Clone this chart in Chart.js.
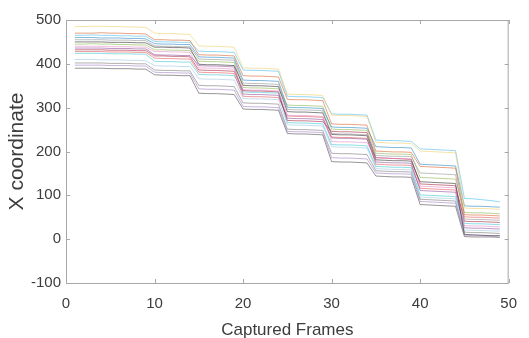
<!DOCTYPE html>
<html>
<head>
<meta charset="utf-8">
<script src="https://cdn.jsdelivr.net/npm/chart.js@4/dist/chart.umd.min.js"></script>
<style>
  html, body { margin: 0; padding: 0; background: #fff; }
  #wrap { width: 529px; height: 338px; position: relative; }
</style>
</head>
<body>
<div id="wrap"><canvas id="trackChart"></canvas></div>
<script>
// frame index on the x axis
const frames = [1,2,3,4,5,6,7,8,9,10,11,12,13,14,15,16,17,18,19,20,21,22,23,24,25,
  26,27,28,29,30,31,32,33,34,35,36,37,38,39,40,41,42,43,44,45,46,47,48,49];

// x coordinate of each tracked point
const trackYellow = [485,485,486,486,485,485,484,484,483, 470,469,469,468,467, 441,440,440,439,438, 391,390,390,389,388, 331,330,330,329,328, 283,282,282,281,280, 221,220,219,219,218, 201,200,199,198,197, 71,70,70,69,68];
const trackOrange = [470,470,470,471,470,470,469,469,468, 455,455,454,454,453, 421,420,420,419,418, 373,372,372,371,370, 319,318,318,317,316, 263,262,262,261,260, 201,200,199,199,198, 166,165,164,163,162, 56,55,55,54,53];
const trackCyan = [465,465,466,465,465,464,464,463,463, 451,450,450,449,449, 429,428,428,427,426, 386,385,385,384,383, 326,325,325,324,323, 286,285,285,284,283, 226,225,225,224,223, 206,205,204,203,202, 93,92,90,88,85];
const trackBlue = [460,460,460,459,459,459,458,458,457, 446,445,445,444,444, 416,415,415,414,413, 363,362,362,361,360, 301,300,300,299,298, 256,255,255,254,253, 211,210,209,209,208, 171,170,169,168,167, 76,75,75,74,73];
const trackGrey = [455,455,455,455,454,454,454,453,453, 441,440,440,439,439, 411,410,410,409,408, 356,355,355,354,353, 296,295,295,294,293, 241,240,240,239,238, 191,190,189,189,188, 151,150,149,148,147, 46,45,45,44,43];
const trackBlack = [450,450,450,450,449,449,449,448,448, 438,438,437,437,436, 399,398,398,397,396, 351,350,350,349,348, 291,290,290,289,288, 239,238,238,237,236, 181,180,179,179,178, 131,130,129,128,127, 11,10,9,8,8];
const trackGreen = [445,445,446,445,445,444,444,443,443, 432,432,431,431,430, 406,405,405,404,403, 346,345,345,344,343, 306,305,305,304,303, 251,250,250,249,248, 196,195,194,194,193, 141,140,139,138,137, 61,60,60,59,58];
const trackPink = [440,440,440,440,439,439,439,438,438, 428,428,427,427,426, 391,390,390,389,388, 341,340,340,339,338, 283,282,282,281,280, 223,222,222,221,220, 186,185,184,184,183, 121,120,119,118,117, 31,30,30,29,28];
const trackPurple = [436,436,436,436,435,435,435,434,434, 421,420,420,419,419, 396,395,395,394,393, 331,330,330,329,328, 276,275,275,274,273, 231,230,230,229,228, 176,175,174,174,173, 111,110,109,108,107, 26,25,25,24,23];
const trackBrown = [432,432,432,432,431,431,431,430,430, 418,418,417,417,416, 386,385,385,384,383, 339,338,338,337,336, 271,270,270,269,268, 246,245,245,244,243, 186,185,184,183,182, 126,125,124,123,122, 41,40,40,39,38];
const trackRed = [428,428,428,428,427,427,427,426,426, 413,412,412,411,411, 381,380,380,379,378, 326,325,325,324,323, 281,280,280,279,278, 233,232,232,231,230, 171,170,169,169,168, 116,115,114,113,112, 51,50,50,49,48];
const trackTeal = [424,424,424,424,423,423,423,422,422, 406,405,405,404,404, 376,375,375,374,373, 336,335,335,334,333, 266,265,265,264,263, 216,215,215,214,213, 166,165,164,164,163, 101,100,99,98,97, 36,35,35,34,33];
const trackSky = [410,410,410,409,409,409,408,408,407, 396,395,395,394,394, 366,365,365,364,363, 321,320,320,319,318, 261,260,260,259,258, 211,210,210,209,208, 161,160,159,159,158, 96,95,94,93,92, 21,20,20,19,18];
const trackSlate = [402,402,402,402,401,401,401,400,400, 386,385,385,384,384, 351,350,350,349,348, 311,310,310,309,308, 251,250,250,249,248, 196,195,195,194,193, 156,155,154,154,153, 91,90,89,88,87, 16,15,15,14,13];
const trackViolet = [397,397,397,397,396,396,396,395,395, 381,380,380,379,379, 343,342,342,341,340, 303,302,302,301,300, 246,245,245,244,243, 186,185,185,184,183, 151,150,149,149,148, 86,85,84,83,82, 9,8,8,7,7];
const trackDark = [390,390,390,390,389,389,389,388,388, 375,374,374,373,373, 333,332,332,331,330, 297,296,296,295,294, 241,240,240,239,238, 177,176,176,175,174, 144,143,142,142,141, 79,78,77,76,75, 6,5,5,5,4];

const xTicks = [0, 10, 20, 30, 40, 50];
const yTicks = [-100, 0, 100, 200, 300, 400, 500];

const tracks = [trackYellow, trackOrange, trackCyan, trackBlue, trackGrey, trackBlack,
  trackGreen, trackPink, trackPurple, trackBrown, trackRed, trackTeal, trackSky,
  trackSlate, trackViolet, trackDark];
const colors = [
  "rgba(237, 200, 80, 0.5)", "rgba(217, 83, 25, 0.55)", "rgba(77, 190, 238, 0.6)",
  "rgba(0, 114, 189, 0.5)", "rgba(140, 140, 140, 0.55)", "rgba(50, 50, 50, 0.6)",
  "rgba(119, 172, 48, 0.5)", "rgba(227, 119, 194, 0.5)", "rgba(126, 47, 142, 0.5)",
  "rgba(162, 20, 47, 0.55)", "rgba(224, 60, 60, 0.5)", "rgba(23, 190, 207, 0.5)",
  "rgba(158, 202, 225, 0.6)", "rgba(100, 100, 100, 0.5)", "rgba(148, 103, 189, 0.5)",
  "rgba(80, 80, 80, 0.6)"];

// box round the plot plus short inward ticks, like the original figure
const boxTicks = {
  id: "boxTicks",
  afterDraw(chart) {
    const { ctx, chartArea: a, scales } = chart;
    ctx.save();
    ctx.strokeStyle = "#a8a8a8";
    ctx.lineWidth = 1;
    ctx.strokeRect(a.left + 0.5, a.top + 0.5, a.right - a.left - 1, a.bottom - a.top);
    ctx.beginPath();
    xTicks.forEach((v) => {
      const px = Math.round(scales.x.getPixelForValue(v)) + 0.5;
      ctx.moveTo(px, a.bottom); ctx.lineTo(px, a.bottom - 4);
      ctx.moveTo(px, a.top); ctx.lineTo(px, a.top + 4);
    });
    yTicks.forEach((v) => {
      const py = Math.round(scales.y.getPixelForValue(v)) + 0.5;
      ctx.moveTo(a.left, py); ctx.lineTo(a.left + 4, py);
      ctx.moveTo(a.right, py); ctx.lineTo(a.right - 4, py);
    });
    ctx.stroke();
    ctx.restore();
  },
};

const textColor = "#3c3c3c";
const fontFamily = "'Liberation Sans', Arial, sans-serif";

new Chart(document.getElementById("trackChart").getContext("2d"), {
  type: "line",
  data: {
    datasets: tracks.map((t, i) => ({
      label: "track " + (i + 1),
      data: frames.map((f, j) => ({ x: f, y: t[j] })),
      borderColor: colors[i],
      borderWidth: 1,
      pointRadius: 0,
      tension: 0,
      fill: false,
    })),
  },
  options: {
    responsive: true,
    maintainAspectRatio: false,
    animation: false,
    devicePixelRatio: 1,
    layout: { padding: { top: 20, right: 8, left: 5, bottom: 0 } },
    plugins: { legend: { display: false }, tooltip: { enabled: false } },
    scales: {
      x: {
        type: "linear",
        min: 0,
        max: 50,
        afterFit: (s) => { s.height = 55; },
        afterBuildTicks: (s) => { s.ticks = xTicks.map((v) => ({ value: v })); },
        grid: { display: false, drawTicks: false },
        border: { display: false },
        ticks: { color: textColor, font: { family: fontFamily, size: 15 }, padding: 12, maxRotation: 0 },
        title: {
          display: true,
          text: "Captured Frames",
          color: textColor,
          font: { family: fontFamily, size: 17 },
          padding: { top: 0, bottom: -3 },
        },
      },
      y: {
        min: -100,
        max: 500,
        afterFit: (s) => { s.width = 61; },
        afterBuildTicks: (s) => { s.ticks = yTicks.map((v) => ({ value: v })); },
        grid: { display: false, drawTicks: false },
        border: { display: false },
        ticks: { color: textColor, font: { family: fontFamily, size: 15 }, padding: 5 },
        title: {
          display: true,
          text: "X coordinate",
          color: textColor,
          font: { family: fontFamily, size: 21 },
          padding: { top: 0, bottom: 0 },
        },
      },
    },
  },
  plugins: [boxTicks],
});
</script>
</body>
</html>
